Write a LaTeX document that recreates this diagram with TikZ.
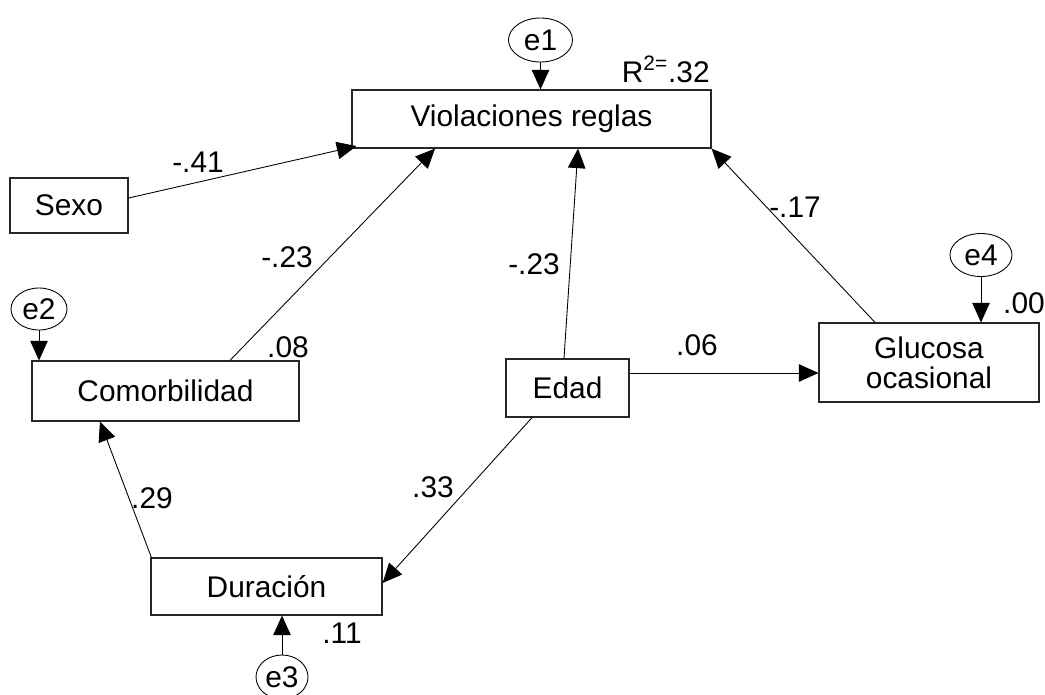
\documentclass[tikz,border=0pt]{standalone}
\usepackage{fontspec}
\setmainfont{Liberation Sans}
\usetikzlibrary{arrows.meta,calc,shapes.geometric}

\begin{document}
\begin{tikzpicture}[
  font=\fontsize{17}{20}\selectfont,
  var/.style={
    draw=black!85,
    line width=0.7pt,
    inner sep=0pt,
    align=center,
    text=black
  },
  err/.style={
    ellipse,
    draw=black,
    line width=0.5pt,
    inner sep=0pt,
    minimum width=1.24cm,
    minimum height=0.86cm
  },
  path/.style={
    draw=black,
    line width=0.5pt,
    -{Triangle[length=3.9mm,width=3.5mm]}
  },
  coef/.style={inner sep=0pt}
]
\useasboundingbox (0,0) rectangle (20.9,-13.88);

% Observed variables
\node[var,minimum width=7.18cm,minimum height=1.16cm] (violaciones) at (10.63,-2.38)
  {Violaciones reglas};
\node[var,minimum width=2.36cm,minimum height=1.10cm] (sexo) at (1.38,-4.11)
  {Sexo};
\node[var,minimum width=5.34cm,minimum height=1.20cm] (comorbilidad) at (3.31,-7.82)
  {Comorbilidad};
\node[var,minimum width=2.46cm,minimum height=1.16cm] (edad) at (11.35,-7.76)
  {Edad};
\node[var,minimum width=4.40cm,minimum height=1.58cm] (glucosa) at (18.58,-7.25)
  {Glucosa\\[-3pt]ocasional};
\node[var,minimum width=4.62cm,minimum height=1.14cm] (duracion) at (5.33,-11.73)
  {Duración};

% Error terms
\node[err,minimum width=1.28cm,minimum height=0.88cm] (e1) at (10.81,-0.80) {e1};
\node[err,minimum width=1.12cm,minimum height=0.84cm] (e2) at (0.78,-6.18) {e2};
\node[err,minimum width=1.04cm,minimum height=0.88cm] (e3) at (5.64,-13.54) {e3};
\node[err] (e4) at (19.62,-5.10) {e4};

% Paths
\draw[path] ([yshift=0.15cm]sexo.east) -- ([xshift=1mm,yshift=0.5mm]violaciones.south west);
\draw[path] ([xshift=1.29cm]comorbilidad.north) -- ([xshift=-1.93cm]violaciones.south);
\draw[path] ([xshift=-0.07cm]edad.north) -- ([xshift=0.93cm]violaciones.south);
\draw[path] ([xshift=-1.08cm]glucosa.north) -- (violaciones.south east);
\draw[path] ([yshift=0.3cm]edad.east) -- ([yshift=0.3cm]edad.east -| glucosa.west);
\draw[path] ([xshift=-0.71cm]edad.south) -- ([yshift=0.07cm]duracion.east);
\draw[path] ([xshift=0.02cm]duracion.north west) -- ([xshift=-1.31cm]comorbilidad.south);

\draw[path] (e1.south) -- (e1.south |- violaciones.north);
\draw[path] (e2.south) -- (e2.south |- comorbilidad.north);
\draw[path] (e4.south) -- (e4.south |- glucosa.north);
\draw[path] (e3.north) -- (e3.north |- duracion.south);

% Coefficients
\node[coef] (c-sexo) at (3.96,-3.24) {-.41};
\node[coef] (c-comorb) at (5.74,-5.14) {-.23};
\node[coef] (c-edad) at (10.68,-5.28) {-.23};
\node[coef] (c-gluc) at (15.90,-4.14) {-.17};
\node[coef] (c-edadgluc) at (13.94,-6.90) {.06};
\node[coef] (c-edaddur) at (8.66,-9.74) {.33};
\node[coef] (c-durcom) at (3.04,-9.96) {.29};

% Squared multiple correlations
\node[coef,anchor=base east] (r-viol) at (14.20,-1.64) {R\textsuperscript{2=}.32};
\node[coef] (r-comorb) at (5.76,-6.94) {.08};
\node[coef] (r-gluc) at (20.48,-6.06) {.00};
\node[coef] (r-dur) at (6.84,-12.66) {.11};

\end{tikzpicture}
\end{document}
